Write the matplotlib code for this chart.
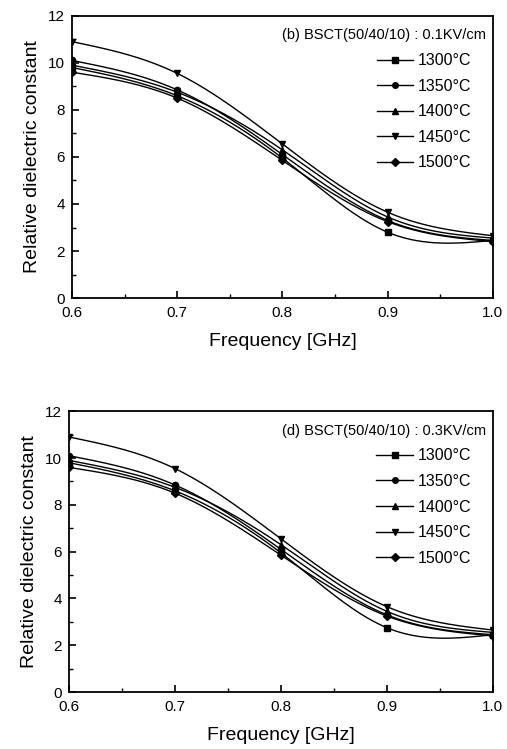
import numpy as np
from matplotlib import pyplot as plt
from matplotlib.ticker import MultipleLocator

plt.rcParams['font.family'] = ['Liberation Sans', 'DejaVu Sans']

freq = [0.6, 0.7, 0.8, 0.9, 1.0]
labels = ['1300°C', '1350°C', '1400°C', '1450°C', '1500°C']
markers = ['s', 'o', '^', 'v', 'D']

# panel (b) 0.1 KV/cm
eps_b = [
    [9.8, 8.6, 5.95, 2.8, 2.45],
    [10.1, 8.85, 6.1, 3.3, 2.45],
    [9.9, 8.75, 6.3, 3.45, 2.55],
    [10.9, 9.55, 6.55, 3.65, 2.65],
    [9.6, 8.5, 5.85, 3.25, 2.4],
]
# panel (d) 0.3 KV/cm
eps_d = [
    [9.8, 8.6, 5.95, 2.75, 2.45],
    [10.1, 8.85, 6.1, 3.3, 2.45],
    [9.9, 8.75, 6.3, 3.45, 2.55],
    [10.9, 9.55, 6.55, 3.65, 2.65],
    [9.6, 8.5, 5.85, 3.25, 2.4],
]
titles = ['(b) BSCT(50/40/10) : 0.1KV/cm', '(d) BSCT(50/40/10) : 0.3KV/cm']


def spline(x, y, n=200):
    # natural cubic spline, only used to draw the smooth connecting line
    x = np.asarray(x, float); y = np.asarray(y, float)
    m = len(x); h = np.diff(x)
    A = np.zeros((m, m)); r = np.zeros(m)
    A[0, 0] = A[-1, -1] = 1
    for i in range(1, m - 1):
        A[i, i - 1] = h[i - 1]; A[i, i] = 2 * (h[i - 1] + h[i]); A[i, i + 1] = h[i]
        r[i] = 6 * ((y[i + 1] - y[i]) / h[i] - (y[i] - y[i - 1]) / h[i - 1])
    M = np.linalg.solve(A, r)
    xs = np.linspace(x[0], x[-1], n)
    k = np.clip(np.searchsorted(x, xs) - 1, 0, m - 2)
    t0 = x[k + 1] - xs; t1 = xs - x[k]; hk = h[k]
    ys = (M[k] * t0**3 + M[k + 1] * t1**3) / (6 * hk) + (y[k] / hk - M[k] * hk / 6) * t0 + (y[k + 1] / hk - M[k + 1] * hk / 6) * t1
    return xs, ys


def drawPanel(ax, data, title):
    for y, lab, mk in zip(data, labels, markers):
        xs, ys = spline(freq, y)
        ax.plot(xs, ys, color='black', lw=1.0)
        ms = 4.5 if mk != 'D' else 4
        ax.plot(freq, y, ls='none', marker=mk, ms=ms, color='black')
        ax.plot([], [], color='black', lw=1.0, marker=mk, ms=4, label=lab)
    ax.set_xlim(0.6, 1.0)
    ax.set_ylim(0, 12)
    ax.xaxis.set_major_locator(MultipleLocator(0.1))
    ax.xaxis.set_minor_locator(MultipleLocator(0.05))
    ax.yaxis.set_major_locator(MultipleLocator(2))
    ax.yaxis.set_minor_locator(MultipleLocator(1))
    ax.xaxis.set_major_formatter(plt.FormatStrFormatter('%.1f'))
    ax.tick_params(which='both', direction='in', top=False, right=False, labelsize=11)
    ax.tick_params(axis='x', pad=6)
    ax.tick_params(axis='y', pad=5)
    ax.tick_params(which='major', length=5, width=1.2)
    ax.tick_params(which='minor', length=3, width=1.0)
    for s in ax.spines.values():
        s.set_linewidth(1.3)
    ax.set_xlabel('Frequency [GHz]', fontsize=14, labelpad=9)
    ax.set_ylabel('Relative dielectric constant', fontsize=14, labelpad=5)
    ax.text(0.985, 0.955, title, transform=ax.transAxes, ha='right', va='top', fontsize=10.5)
    ax.legend(loc='upper right', bbox_to_anchor=(0.965, 0.89), frameon=False, fontsize=11.5,
              handlelength=2.3, handletextpad=0.3, labelspacing=0.66, borderaxespad=0)


fig = plt.figure(figsize=(5.07, 7.49), dpi=100)
ax1 = fig.add_axes([0.142, 0.602, 0.830, 0.377])
ax2 = fig.add_axes([0.136, 0.076, 0.836, 0.375])
drawPanel(ax1, eps_b, titles[0])
drawPanel(ax2, eps_d, titles[1])
fig.savefig('out.png', dpi=100)
